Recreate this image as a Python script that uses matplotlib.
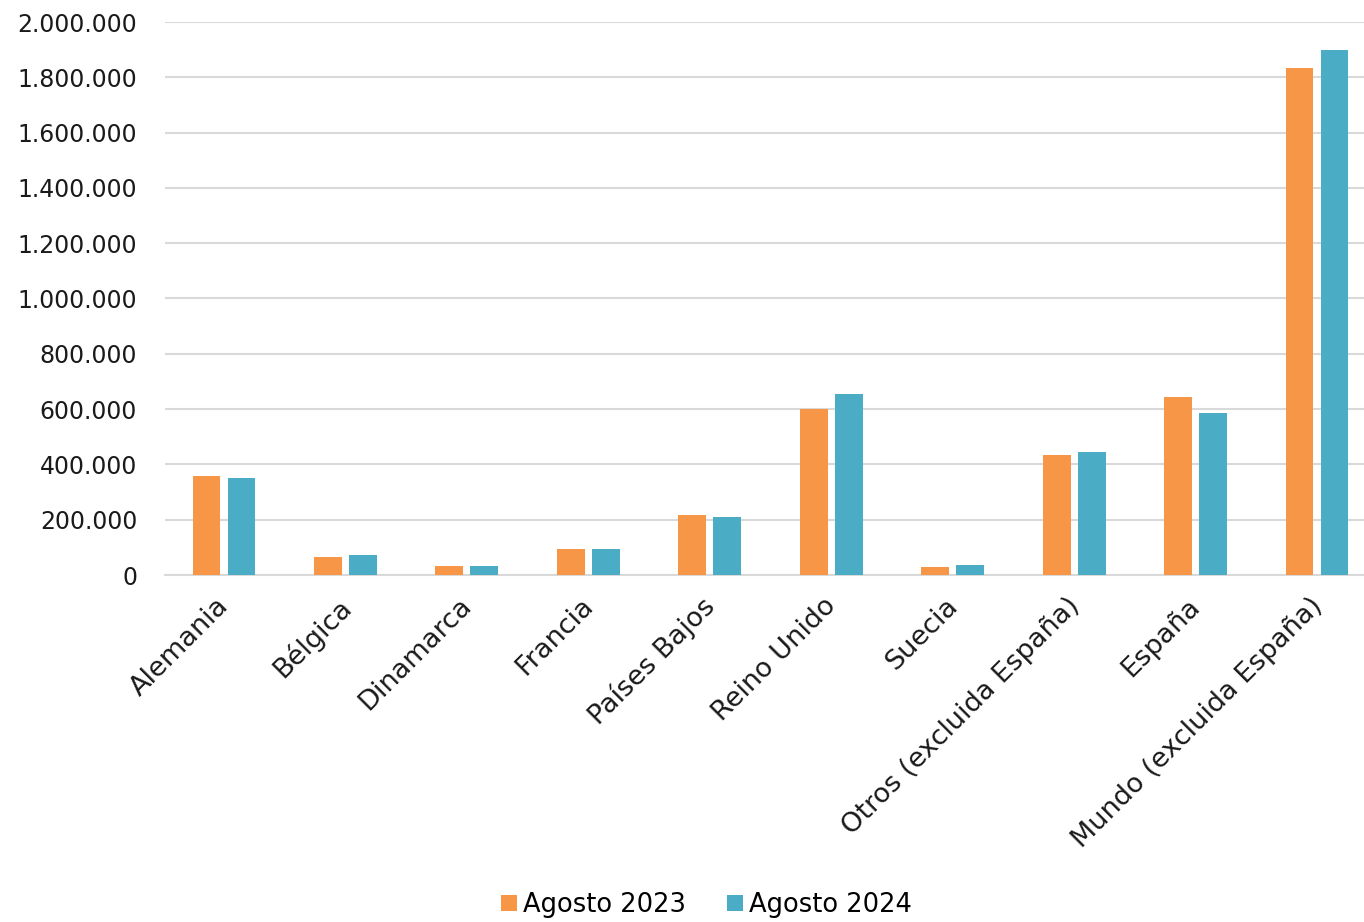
import numpy as np
import matplotlib
matplotlib.use('Agg')
import matplotlib.pyplot as plt
import matplotlib.transforms as mtransforms
from matplotlib.ticker import FuncFormatter

paises = ['Alemania', 'Bélgica', 'Dinamarca', 'Francia', 'Países Bajos',
          'Reino Unido', 'Suecia', 'Otros (excluida España)', 'España',
          'Mundo (excluida España)']
agosto_2023 = [358000, 65000, 33000, 94000, 217000, 600000, 29000, 434000, 645000, 1833000]
agosto_2024 = [351000, 72000, 33000, 94000, 210000, 655000, 36000, 445000, 586000, 1900000]

plt.rcParams['font.family'] = ['DejaVu Sans']

fig = plt.figure(figsize=(13.64, 9.22), dpi=100)
ax = fig.add_axes([165 / 1364, 1 - 575 / 922, (1364 - 165) / 1364, (575 - 22) / 922])

x = np.arange(len(paises))
w = 0.23
off = 0.144
ax.bar(x - off, agosto_2023, w, color='#F79646', label='Agosto 2023', zorder=3)
ax.bar(x + off, agosto_2024, w, color='#4BACC6', label='Agosto 2024', zorder=3)

ax.set_xlim(-0.486, 9.387)
ax.set_ylim(0, 2000000)
ax.set_yticks(np.arange(0, 2000001, 200000))
ax.yaxis.set_major_formatter(FuncFormatter(lambda v, p: f'{int(v):,}'.replace(',', '.')))
ax.grid(axis='y', color='#D9D9D9', linewidth=1.5, zorder=0)
for s in ['top', 'right', 'left']:
    ax.spines[s].set_visible(False)
ax.spines['bottom'].set_color('#D9D9D9')
ax.spines['bottom'].set_linewidth(1.5)
ax.tick_params(length=0, colors='#1a1a1a')
ax.tick_params(axis='y', labelsize=17, pad=20)
ax.tick_params(axis='x', labelsize=19.5, pad=13)
ax.set_xticks(x)
ax.set_xticklabels(paises, rotation=45, ha='right', rotation_mode='anchor')
shift = mtransforms.ScaledTranslation(-8 / 100, 0, fig.dpi_scale_trans)
for lbl in ax.get_xticklabels():
    lbl.set_transform(lbl.get_transform() + shift)

fig.legend(loc='lower center', bbox_to_anchor=(0.518, -0.021), ncol=2, frameon=False,
           fontsize=18.5, handlelength=0.6, handleheight=0.6, handletextpad=0.25,
           columnspacing=1.6)

fig.savefig('out.png', dpi=100, facecolor='white')
